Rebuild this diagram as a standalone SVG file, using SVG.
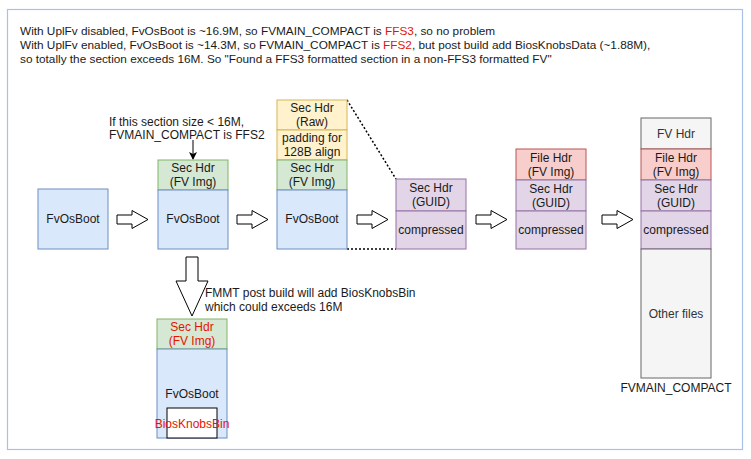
<svg xmlns="http://www.w3.org/2000/svg" width="751" height="459" viewBox="0 0 751 459">
<defs>
<style>
text{font-family:"Liberation Sans",Arial,sans-serif;font-size:12px;fill:#1a1a1a}
.t{font-size:11.8px}
.c{text-anchor:middle}
.red{fill:#e51400}
.blue{fill:#dae8fc;stroke:#6c8ebf}
.green{fill:#d5e8d4;stroke:#82b366}
.yellow{fill:#fff2cc;stroke:#d6b656}
.purple{fill:#e1d5e7;stroke:#9673a6}
.pink{fill:#f8cecc;stroke:#b85450}
.gray{fill:#f5f5f5;stroke:#666666}
.harrow{fill:#ffffff;stroke:#000000;stroke-width:1}
.dot{fill:none;stroke:#000;stroke-width:1.5;stroke-dasharray:2 2}
</style>
<marker id="ah" markerWidth="8" markerHeight="8" refX="7" refY="4" orient="auto" markerUnits="userSpaceOnUse">
<path d="M0,0 L8,4 L0,8 L2,4 Z" fill="#000"/>
</marker>
<path id="hA" d="M0,-4.5 L15,-4.5 L15,-9 L31,0 L15,9 L15,4.5 L0,4.5 Z"/>
</defs>
<rect x="0" y="0" width="751" height="459" fill="#ffffff"/>
<rect x="7.5" y="9.5" width="735" height="440" fill="none" stroke="#a9c1e8" stroke-width="1.2"/>

<g id="title">
<text class="t" x="20" y="35">With UplFv disabled, FvOsBoot is ~16.9M, so FVMAIN_COMPACT is <tspan class="red">FFS3</tspan>, so no problem</text>
<text class="t" x="20" y="49">With UplFv enabled, FvOsBoot is ~14.3M, so FVMAIN_COMPACT is <tspan class="red">FFS2</tspan>, but post build add BiosKnobsData (~1.88M),</text>
<text class="t" x="20" y="63">so totally the section exceeds 16M. So "Found a FFS3 formatted section in a non-FFS3 formatted FV"</text>
</g>

<g id="connectors">
<use href="#hA" x="117" y="219.5" class="harrow"/>
<use href="#hA" x="237" y="219.5" class="harrow"/>
<use href="#hA" x="357" y="219.5" class="harrow"/>
<use href="#hA" x="476" y="219.5" class="harrow"/>
<use href="#hA" x="602" y="219.5" class="harrow"/>
<path d="M186,257 L198,257 L198,281 L208,281 L192,316 L176,281 L186,281 Z" class="harrow"/>
<line x1="193" y1="140" x2="193" y2="159" stroke="#000" stroke-width="1" marker-end="url(#ah)"/>
<line x1="347" y1="100" x2="396" y2="179" class="dot"/>
<line x1="347" y1="249" x2="396" y2="249" class="dot"/>
</g>

<g id="note1">
<text x="109" y="126">If this section size &lt; 16M,</text>
<text x="109" y="139">FVMAIN_COMPACT is FFS2</text>
</g>
<g id="note2">
<text x="205" y="297">FMMT post build will add BiosKnobsBin</text>
<text x="205" y="311">which could exceeds 16M</text>
</g>

<g id="box1">
<rect x="38" y="189" width="70" height="60" class="blue"/>
<text x="73" y="223" class="c">FvOsBoot</text>
</g>

<g id="box2">
<rect x="158" y="160" width="70" height="30" class="green"/>
<text x="193" y="172" class="c">Sec Hdr</text>
<text x="193" y="186" class="c">(FV Img)</text>
<rect x="158" y="190" width="70" height="59" class="blue"/>
<text x="193" y="223" class="c">FvOsBoot</text>
</g>

<g id="box3">
<rect x="277" y="100" width="70" height="30" class="yellow"/>
<text x="312" y="112" class="c">Sec Hdr</text>
<text x="312" y="126" class="c">(Raw)</text>
<rect x="277" y="130" width="70" height="30" class="yellow"/>
<text x="312" y="142" class="c">padding for</text>
<text x="312" y="156" class="c">128B align</text>
<rect x="277" y="160" width="70" height="30" class="green"/>
<text x="312" y="172" class="c">Sec Hdr</text>
<text x="312" y="186" class="c">(FV Img)</text>
<rect x="277" y="190" width="70" height="59" class="blue"/>
<text x="312" y="223" class="c">FvOsBoot</text>
</g>

<g id="box4">
<rect x="396" y="179" width="70" height="32" class="purple"/>
<text x="431" y="192" class="c">Sec Hdr</text>
<text x="431" y="206" class="c">(GUID)</text>
<rect x="396" y="211" width="70" height="38" class="purple"/>
<text x="431" y="234" class="c">compressed</text>
</g>

<g id="box5">
<rect x="516" y="149" width="70" height="31" class="pink"/>
<text x="551" y="162" class="c">File Hdr</text>
<text x="551" y="176" class="c">(FV Img)</text>
<rect x="516" y="180" width="70" height="31" class="purple"/>
<text x="551" y="193" class="c">Sec Hdr</text>
<text x="551" y="207" class="c">(GUID)</text>
<rect x="516" y="211" width="70" height="38" class="purple"/>
<text x="551" y="234" class="c">compressed</text>
</g>

<g id="box6">
<rect x="641" y="118" width="70" height="31" class="gray"/>
<text x="676" y="138" class="c" style="fill:#333">FV Hdr</text>
<rect x="641" y="149" width="70" height="31" class="pink"/>
<text x="676" y="162" class="c">File Hdr</text>
<text x="676" y="176" class="c">(FV Img)</text>
<rect x="641" y="180" width="70" height="31" class="purple"/>
<text x="676" y="193" class="c">Sec Hdr</text>
<text x="676" y="207" class="c">(GUID)</text>
<rect x="641" y="211" width="70" height="38" class="purple"/>
<text x="676" y="234" class="c">compressed</text>
<rect x="641" y="249" width="70" height="129" class="gray"/>
<text x="676" y="318" class="c" style="fill:#333">Other files</text>
<text x="676" y="392" class="c">FVMAIN_COMPACT</text>
</g>

<g id="box7">
<rect x="157" y="319" width="70" height="30" class="green"/>
<text x="192" y="331" class="c red">Sec Hdr</text>
<text x="192" y="345" class="c red">(FV Img)</text>
<rect x="157" y="349" width="70" height="89" class="blue"/>
<text x="192" y="398" class="c">FvOsBoot</text>
<rect x="167" y="408" width="50" height="30" fill="#ffffff" stroke="#000"/>
<text x="192" y="428" class="c red">BiosKnobsBin</text>
</g>
</svg>
